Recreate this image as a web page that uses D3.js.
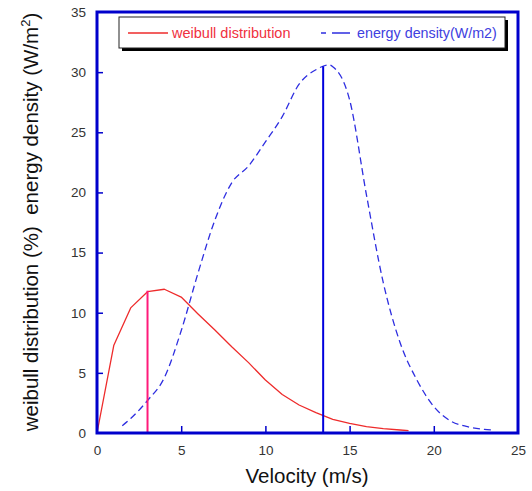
<!DOCTYPE html>
<html>
<head>
<meta charset="utf-8">
<script src="https://cdn.jsdelivr.net/npm/d3@7"></script>
<style>
  body { margin: 0; background: #fff; }
  svg { display: block; font-family: Arial, "Liberation Sans", sans-serif; }
</style>
</head>
<body>
<svg id="chart" width="532" height="491"></svg>
<script>
// ---- data ----
const weibullV = [0, 1, 2, 3, 4, 5, 6, 7, 8, 9, 10, 11, 12, 13, 14, 15, 16, 17, 18, 18.5];
const weibullP = [0, 7.3, 10.4, 11.75, 11.95, 11.3, 9.9, 8.56, 7.17, 5.85, 4.4, 3.2, 2.33, 1.69, 1.14, 0.8, 0.53, 0.36, 0.25, 0.2];

const energyV = [1.5, 2, 3, 4, 5, 6, 7, 8, 9, 10, 11, 12, 13, 13.8, 14, 15, 16, 17, 18, 19, 20, 21, 22, 23, 23.5];
const energyE = [0.6, 1.2, 2.7, 4.6, 8.5, 13.3, 17.7, 20.8, 22.2, 24.2, 26.3, 29.0, 30.2, 30.6, 30.45, 27.7, 19.8, 12.5, 7.5, 4.4, 2.2, 1.0, 0.53, 0.3, 0.25];

const markerWeibull = [3, 11.83];   // most probable speed marker
const markerEnergy = [13.43, 30.5]; // max energy speed marker

const xTicks = [0, 5, 10, 15, 20, 25];
const yTicks = [0, 5, 10, 15, 20, 25, 30, 35];

const legendLabels = ["weibull distribution", "energy density(W/m2)"];

// ---- layout ----
const svg = d3.select("#chart");
const L = 97, R = 518, T = 12, B = 433;
const x = d3.scaleLinear().domain([0, 25]).range([L, R]);
const y = d3.scaleLinear().domain([0, 35]).range([B, T]);
const frameColor = "#0000cc";

// curves
const lineLin = d3.line().x(d => x(d[0])).y(d => y(d[1]));
const lineSmooth = d3.line().x(d => x(d[0])).y(d => y(d[1])).curve(d3.curveMonotoneX);
svg.append("path")
  .attr("d", lineLin(weibullV.map((v, i) => [v, weibullP[i]])))
  .attr("fill", "none").attr("stroke", "#ee2b2b").attr("stroke-width", 1.3)
  .attr("stroke-linejoin", "round");

svg.append("path")
  .attr("d", lineSmooth(energyV.map((v, i) => [v, energyE[i]])))
  .attr("fill", "none").attr("stroke", "#2e2ee0").attr("stroke-width", 1.3)
  .attr("stroke-dasharray", "7,4");

// marker lines
svg.append("line")
  .attr("x1", x(markerWeibull[0])).attr("x2", x(markerWeibull[0]))
  .attr("y1", y(0)).attr("y2", y(markerWeibull[1]))
  .attr("stroke", "#ff1a7a").attr("stroke-width", 2);
svg.append("line")
  .attr("x1", x(markerEnergy[0])).attr("x2", x(markerEnergy[0]))
  .attr("y1", y(0)).attr("y2", y(markerEnergy[1]))
  .attr("stroke", "#0000dd").attr("stroke-width", 2);

// axes (ticks inward)
const xAxis = d3.axisBottom(x).tickValues(xTicks).tickSize(-7).tickPadding(12).tickFormat(d3.format("d"));
const gx = svg.append("g").attr("transform", `translate(0,${B})`).call(xAxis);
const yAxis = d3.axisLeft(y).tickValues(yTicks).tickSize(-6).tickPadding(11).tickFormat(d3.format("d"));
const gy = svg.append("g").attr("transform", `translate(${L},0)`).call(yAxis);
[gx, gy].forEach(g => {
  g.select(".domain").remove();
  g.selectAll(".tick line").attr("stroke", frameColor).attr("stroke-width", 1.5);
  g.selectAll(".tick text").attr("fill", "#333").style("font-size", "13.5px").style("font-family", "Arial, 'Liberation Sans', sans-serif");
});
gx.selectAll(".tick").filter(d => d === 0 || d === 25).select("line").remove();
gy.selectAll(".tick").filter(d => d === 0 || d === 35).select("line").remove();

// frame
svg.append("rect")
  .attr("x", L).attr("y", T).attr("width", R - L).attr("height", B - T)
  .attr("fill", "none").attr("stroke", frameColor).attr("stroke-width", 3);

// legend
const lg = svg.append("g");
lg.append("rect").attr("x", 122).attr("y", 20).attr("width", 386).attr("height", 31).attr("fill", "#000");
lg.append("rect").attr("x", 119).attr("y", 17).attr("width", 386).attr("height", 31)
  .attr("fill", "#fff").attr("stroke", "#222").attr("stroke-width", 1);
lg.append("line").attr("x1", 128).attr("x2", 168).attr("y1", 33).attr("y2", 33)
  .attr("stroke", "#ee2b2b").attr("stroke-width", 1.3);
lg.append("text").attr("x", 172).attr("y", 38).text(legendLabels[0])
  .attr("fill", "#f03040").style("font-size", "14.5px");
lg.append("line").attr("x1", 321).attr("x2", 350).attr("y1", 33).attr("y2", 33)
  .attr("stroke", "#2e2ee0").attr("stroke-width", 1.3).attr("stroke-dasharray", "5,6,18");
lg.append("text").attr("x", 357).attr("y", 38).text(legendLabels[1])
  .attr("fill", "#4040e0").style("font-size", "14.3px");

// axis titles
svg.append("text").attr("x", 307).attr("y", 483).attr("text-anchor", "middle")
  .style("font-size", "20.5px").attr("fill", "#111").text("Velocity (m/s)");

const yt = svg.append("text").attr("transform", "translate(38,222) rotate(-90)")
  .attr("text-anchor", "middle").style("font-size", "20.5px").style("white-space", "pre")
  .attr("xml:space", "preserve").attr("fill", "#111");
yt.append("tspan").text("weibull distribution (%)  energy density (W/m");
yt.append("tspan").attr("dy", -8).style("font-size", "13px").text("2");
yt.append("tspan").attr("dy", 8).text(")");
</script>
</body>
</html>
